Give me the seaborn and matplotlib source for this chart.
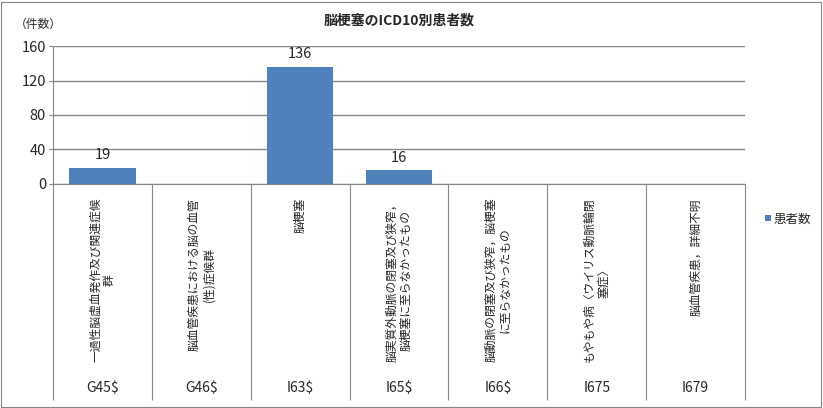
import matplotlib
matplotlib.use('Agg')
import matplotlib.pyplot as plt
import seaborn as sns
import pandas as pd
import numpy as np
from matplotlib.patches import Rectangle
from matplotlib.transforms import blended_transform_factory

codes = ["G45$", "G46$", "I63$", "I65$", "I66$", "I675", "I679"]
names = [
    "一過性脳虚血発作及び関連症候\n群",
    "脳血管疾患における脳の血管\n(性)症候群",
    "脳梗塞",
    "脳実質外動脈の閉塞及び狭窄，\n脳梗塞に至らなかったもの",
    "脳動脈の閉塞及び狭窄，脳梗塞\nに至らなかったもの",
    "もやもや病〈ウイリス動脈輪閉\n塞症〉",
    "脳血管疾患，詳細不明",
]
counts = [19, np.nan, 136, 16, np.nan, np.nan, np.nan]
series_name = "患者数"
title = "脳梗塞のICD10別患者数"
unit_label = "（件数）"
yticks = [0, 40, 80, 120, 160]

sns.set_style("white")
plt.rcParams['font.family'] = ['Noto Sans CJK JP', 'DejaVu Sans']

W, H = 823, 408
fig = plt.figure(figsize=(W / 100, H / 100), dpi=100)
ax = fig.add_axes([53 / W, (H - 184) / H, 692 / W, 138 / H])

df = pd.DataFrame({"code": codes, "count": counts})
sns.barplot(data=df, x="code", y="count", order=codes, color="#4F81BD",
            saturation=1, width=0.67, label=series_name, linewidth=0, ax=ax)

grid = "#868686"
ax.set_ylim(0, 160)
ax.set_xlim(-0.5, len(codes) - 0.5)
ax.set_yticks(yticks)
ax.set_yticklabels([str(v) for v in yticks], fontsize=10.5)
ax.yaxis.grid(True, color=grid, linewidth=1)
ax.set_axisbelow(True)
ax.tick_params(axis='y', direction='out', length=3, color=grid, width=0.8, pad=2, left=True)

# category boundaries as long tick marks
ax.set_xticks(np.arange(-0.5, len(codes), 1.0))
ax.set_xticklabels([])
ax.tick_params(axis='x', direction='out', length=216 * 0.72, color=grid, width=0.8, bottom=True)
ax.set_xlabel("")
ax.set_ylabel("")

for s in ["top", "right"]:
    ax.spines[s].set_visible(False)
ax.spines["left"].set_color(grid)
ax.spines["bottom"].set_color(grid)
ax.spines["left"].set_linewidth(0.8)
ax.spines["bottom"].set_linewidth(0.8)

# data labels
for c in ax.containers:
    labels = ["" if np.isnan(v) else f"{int(v)}" for v in c.datavalues]
    ax.bar_label(c, labels=labels, padding=4, fontsize=10.5)

tr = blended_transform_factory(ax.transData, ax.transAxes)
for i, (nm, cd) in enumerate(zip(names, codes)):
    ax.text(i, (184 - 198) / 138, nm, transform=tr, rotation=90, ha='center', va='top',
            multialignment='center', fontsize=8.5, linespacing=1.15)
    ax.text(i, (184 - 388) / 138, cd, transform=tr, ha='center', va='center', fontsize=10)

ax.legend(loc='center left', bbox_to_anchor=(765 / W, 1 - 219 / H), bbox_transform=fig.transFigure,
          frameon=False, handlelength=0.45, handleheight=0.45, handletextpad=0.25, fontsize=9,
          borderpad=0, borderaxespad=0)

fig.text(399 / W, 1 - 20 / H, title, ha='center', va='center', fontsize=10, fontweight='bold')
fig.text(15 / W, 1 - 24 / H, unit_label, ha='left', va='center', fontsize=8.5)

fig.patches.append(Rectangle((1 / W, 1 / H), 820 / W, 405 / H, transform=fig.transFigure,
                             fill=False, edgecolor=grid, linewidth=0.8))

fig.savefig("out.png", dpi=100)
